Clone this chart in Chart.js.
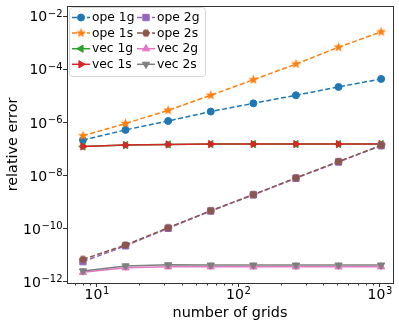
<!DOCTYPE html>
<html>
<head>
<meta charset="utf-8">
<script src="https://cdn.jsdelivr.net/npm/chart.js@4.4.0/dist/chart.umd.min.js"></script>
<style>
  html, body { margin: 0; padding: 0; background: #fff; }
</style>
</head>
<body>
<canvas id="grafico" width="399" height="325"></canvas>
<script>
// dados
const grids = [8, 16, 32, 64, 128, 256, 512, 1024];
const ope1g = [2.2e-7, 5.3e-7, 1.15e-6, 2.6e-6, 5.3e-6, 1.07e-5, 2.2e-5, 4.4e-5];
const ope1s = [3.2e-7, 9.2e-7, 2.9e-6, 1.07e-5, 4.1e-5, 1.6e-4, 6.9e-4, 2.6e-3];
const vec1g = [1.26e-7, 1.42e-7, 1.5e-7, 1.55e-7, 1.55e-7, 1.55e-7, 1.55e-7, 1.55e-7];
const vec1s = [1.26e-7, 1.42e-7, 1.5e-7, 1.55e-7, 1.55e-7, 1.55e-7, 1.55e-7, 1.55e-7];
const ope2g = [5.8e-12, 2.3e-11, 1.05e-10, 4.7e-10, 1.9e-9, 8.1e-9, 3.3e-8, 1.36e-7];
const ope2s = [7.1e-12, 2.45e-11, 1.1e-10, 4.8e-10, 1.95e-9, 8.3e-9, 3.4e-8, 1.38e-7];
const vec2g = [2.3e-12, 3.4e-12, 3.7e-12, 3.7e-12, 3.7e-12, 3.7e-12, 3.7e-12, 3.7e-12];
const vec2s = [2.6e-12, 4.0e-12, 4.4e-12, 4.3e-12, 4.3e-12, 4.3e-12, 4.3e-12, 4.3e-12];

// ticks (base 10, expoente como sobrescrito)
const xTicks = [10, 100, 1000];
const xExpoentes = ['1', '2', '3'];
const yTicks = [1e-12, 1e-10, 1e-8, 1e-6, 1e-4, 1e-2];
const yExpoentes = ['\u221212', '\u221210', '\u22128', '\u22126', '\u22124', '\u22122'];
const xMinor = [6, 7, 8, 9, 20, 30, 40, 50, 60, 70, 80, 90, 200, 300, 400, 500, 600, 700, 800, 900];

const fonte = '"DejaVu Sans", sans-serif';

// marcadores desenhados em canvas (estrela e hexágono)
function marcador(cor, r, lados, interno) {
    const c = document.createElement('canvas');
    const s = Math.ceil(2 * r + 2);
    c.width = s; c.height = s;
    const g = c.getContext('2d');
    g.fillStyle = cor;
    g.beginPath();
    const n = interno ? lados * 2 : lados;
    for (let k = 0; k < n; k++) {
        const raio = interno && k % 2 ? r * interno : r;
        const ang = interno ? -Math.PI / 2 + k * Math.PI / lados : k * 2 * Math.PI / lados;
        const px = s / 2 + raio * Math.cos(ang), py = s / 2 + raio * Math.sin(ang);
        if (k === 0) g.moveTo(px, py); else g.lineTo(px, py);
    }
    g.closePath();
    g.fill();
    return c;
}

function serie(label, data, cor, estilo, tracejado, raio, rot) {
    return {
        label: label,
        data: data,
        borderColor: cor,
        backgroundColor: cor,
        pointBackgroundColor: cor,
        pointBorderColor: cor,
        pointBorderWidth: 1,
        pointStyle: estilo,
        pointRotation: rot || 0,
        pointRadius: raio,
        borderWidth: 1.5,
        borderDash: tracejado ? [5, 2.5] : [],
        tension: 0,
        fill: false
    };
}

const series = [
    serie('ope 1g', ope1g, '#1f77b4', 'circle', true, 3.5),
    serie('ope 1s', ope1s, '#ff7f0e', marcador('#ff7f0e', 5.3, 5, 0.42), true, 5),
    serie('vec 1g', vec1g, '#2ca02c', 'triangle', false, 4.2, 270),
    serie('vec 1s', vec1s, '#d62728', 'triangle', false, 4.2, 90),
    serie('ope 2g', ope2g, '#9467bd', 'rect', true, 4.5),
    serie('ope 2s', ope2s, '#8c564b', marcador('#8c564b', 4, 6), true, 4),
    serie('vec 2g', vec2g, '#e377c2', 'triangle', false, 4.2, 0),
    serie('vec 2s', vec2s, '#7f7f7f', 'triangle', false, 4.2, 180)
];
// as últimas séries ficam por cima, como no matplotlib
series.forEach((s, i) => { s.order = series.length - i; });

// escreve "10" com o expoente em sobrescrito
function potencia(ctx, exp, x, base, alinhar) {
    ctx.font = '14px ' + fonte;
    const w1 = ctx.measureText('10').width;
    ctx.font = '10px ' + fonte;
    const w2 = ctx.measureText(exp).width;
    const x0 = alinhar === 'right' ? x - w1 - w2 : x - (w1 + w2) / 2;
    ctx.textAlign = 'left';
    ctx.textBaseline = 'alphabetic';
    ctx.fillStyle = '#000';
    ctx.font = '14px ' + fonte;
    ctx.fillText('10', x0, base);
    ctx.font = '10px ' + fonte;
    ctx.fillText(exp, x0 + w1 + 0.5, base - 4.5);
}

// moldura, rótulos, ticks menores e legenda
const molduraPlugin = {
    id: 'moldura',
    afterDraw(chart) {
        const ctx = chart.ctx;
        const a = chart.chartArea;
        const xs = chart.scales.x, ys = chart.scales.y;
        ctx.save();
        ctx.strokeStyle = '#333';
        ctx.lineWidth = 1;
        ctx.strokeRect(Math.round(a.left) + 0.5, Math.round(a.top) + 0.5,
            Math.round(a.right - a.left), Math.round(a.bottom - a.top));
        ctx.beginPath();
        xMinor.forEach(v => {
            const px = Math.round(xs.getPixelForValue(v)) + 0.5;
            if (px < a.left || px > a.right) return;
            ctx.moveTo(px, a.bottom);
            ctx.lineTo(px, a.bottom + 2.5);
        });
        ctx.stroke();

        xTicks.forEach((v, i) => potencia(ctx, xExpoentes[i], xs.getPixelForValue(v), 298.5, 'center'));
        yTicks.forEach((v, i) => potencia(ctx, yExpoentes[i], a.left - 5, ys.getPixelForValue(v) + 5, 'right'));

        // legenda em duas colunas
        const x0 = 69, y0 = 7, w = 136, h = 69;
        ctx.fillStyle = 'rgba(255,255,255,0.85)';
        ctx.strokeStyle = '#d6d6d6';
        ctx.beginPath();
        ctx.roundRect(x0 + 0.5, y0 + 0.5, w, h, 3);
        ctx.fill();
        ctx.stroke();
        chart.data.datasets.forEach((ds, i) => {
            const col = Math.floor(i / 4), lin = i % 4;
            const lx = col ? 137 : 72;
            const ly = 17.5 + lin * 15.6;
            ctx.strokeStyle = ds.borderColor;
            ctx.lineWidth = 1.5;
            ctx.setLineDash(ds.borderDash);
            ctx.beginPath();
            ctx.moveTo(lx, ly);
            ctx.lineTo(lx + 18, ly);
            ctx.stroke();
            ctx.setLineDash([]);
            ctx.fillStyle = ds.pointBackgroundColor;
            ctx.strokeStyle = ds.pointBorderColor;
            ctx.lineWidth = 1;
            Chart.helpers.drawPoint(ctx, {
                pointStyle: ds.pointStyle, rotation: ds.pointRotation,
                radius: ds.pointRadius, borderWidth: 1
            }, lx + 9, ly);
            ctx.fillStyle = '#000';
            ctx.font = '12.3px ' + fonte;
            ctx.textBaseline = 'middle';
            ctx.textAlign = 'left';
            ctx.fillText(ds.label, lx + 20, ly + 0.5);
        });
        ctx.restore();
    }
};

const ctx = document.getElementById('grafico').getContext('2d');
const grafico = new Chart(ctx, {
    type: 'line',
    data: {
        datasets: series.map(s => Object.assign(s, { data: s.data.map((v, k) => ({ x: grids[k], y: v })) }))
    },
    options: {
        responsive: false,
        animation: false,
        layout: { padding: { top: 5, right: 6, left: 0, bottom: 0 } },
        plugins: { legend: { display: false }, tooltip: { enabled: false } },
        scales: {
            x: {
                type: 'logarithmic',
                min: 6.17,
                max: 1242,
                afterBuildTicks: s => { s.ticks = xTicks.map(v => ({ value: v })); },
                afterFit: s => { s.height = 42; },
                ticks: { display: false },
                grid: { display: true, drawOnChartArea: false, drawTicks: true, tickLength: 4, color: '#333' },
                border: { display: true, color: '#333' },
                title: {
                    display: true, text: 'number of grids', color: '#000',
                    font: { family: fonte, size: 14.4 }, padding: { top: 0, bottom: 3 }
                }
            },
            y: {
                type: 'logarithmic',
                min: Math.pow(10, -12.04),
                max: Math.pow(10, -1.61),
                afterBuildTicks: s => { s.ticks = yTicks.map(v => ({ value: v })); },
                afterFit: s => { s.width = 67; },
                ticks: { display: false },
                grid: { display: true, drawOnChartArea: false, drawTicks: true, tickLength: 4, color: '#333' },
                border: { display: true, color: '#333' },
                title: {
                    display: true, text: 'relative error', color: '#000',
                    font: { family: fonte, size: 14.4 }, padding: { top: 5, bottom: 0 }
                }
            }
        }
    },
    plugins: [molduraPlugin]
});
</script>
</body>
</html>
